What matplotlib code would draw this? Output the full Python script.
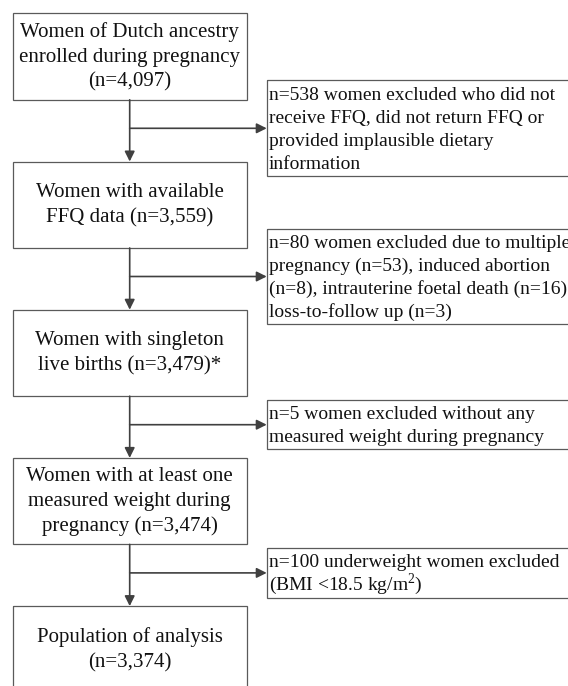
import matplotlib
matplotlib.use('Agg')
import matplotlib.pyplot as plt
from matplotlib.patches import Rectangle

plt.rcParams['font.family'] = ['Liberation Serif', 'DejaVu Serif']
plt.rcParams['mathtext.fontset'] = 'custom'
plt.rcParams['mathtext.rm'] = 'Liberation Serif'

# flow steps (main column)
step_labels = [
    'Women of Dutch ancestry\nenrolled during pregnancy\n(n=4,097)',
    'Women with available\nFFQ data (n=3,559)',
    'Women with singleton\nlive births (n=3,479)*',
    'Women with at least one\nmeasured weight during\npregnancy (n=3,474)',
    'Population of analysis\n(n=3,374)',
]

# exclusions between consecutive steps
excl_labels = [
    'n=538 women excluded who did not\nreceive FFQ, did not return FFQ or\n'
    'provided implausible dietary\ninformation',
    'n=80 women excluded due to multiple\npregnancy (n=53), induced abortion\n'
    '(n=8), intrauterine foetal death (n=16)\nloss-to-follow up (n=3)',
    'n=5 women excluded without any\nmeasured weight during pregnancy',
    'n=100 underweight women excluded\n(BMI <18.5 kg/m$^{\\mathrm{2}}$)',
]

# layout in pixel units
W, H = 568, 686
box_left, box_right = 12.7, 246.7
box_top0, box_h, step = 13.3, 86.5, 148.2
branch_off = 28.5
excl_left = 266.7
line_h = 23.2
line_col = '#404040'
edge_col = '#5a5a5a'


def main():
    fig = plt.figure(figsize=(W / 100, H / 100), dpi=100)
    ax = fig.add_axes([0, 0, 1, 1])
    ax.set_xlim(0, W)
    ax.set_ylim(H, 0)
    ax.axis('off')

    cx = (box_left + box_right) / 2
    for i, label in enumerate(step_labels):
        top = box_top0 + i * step
        ax.add_patch(Rectangle((box_left, top), box_right - box_left, box_h,
                               fill=False, edgecolor=edge_col, linewidth=0.9))
        ax.text(cx, top + box_h / 2 + 0.5, label, ha='center', va='center',
                fontsize=15, linespacing=1.4, color='#111111')

    for i, label in enumerate(excl_labels):
        bottom = box_top0 + i * step + box_h
        next_top = box_top0 + (i + 1) * step
        by = bottom + branch_off
        # vertical arrow to next box
        ax.annotate('', xy=(cx, next_top), xytext=(cx, bottom),
                    arrowprops=dict(arrowstyle='-|>', color=line_col, lw=1.2,
                                    mutation_scale=15, shrinkA=0, shrinkB=0))
        # branch arrow to exclusion box
        ax.annotate('', xy=(excl_left, by), xytext=(cx, by),
                    arrowprops=dict(arrowstyle='-|>', color=line_col, lw=1.2,
                                    mutation_scale=15, shrinkA=0, shrinkB=0))
        lines = label.split('\n')
        eh = len(lines) * line_h + 3
        ax.add_patch(Rectangle((excl_left, by - eh / 2), W + 20 - excl_left, eh,
                               fill=False, edgecolor=edge_col, linewidth=0.9))
        first = by - (len(lines) - 1) * line_h / 2
        for k, ln in enumerate(lines):
            ax.text(excl_left + 2, first + k * line_h + 6, ln, ha='left',
                    va='baseline', fontsize=14, color='#111111')

    fig.savefig('out.png', dpi=100)


if __name__ == '__main__':
    main()
